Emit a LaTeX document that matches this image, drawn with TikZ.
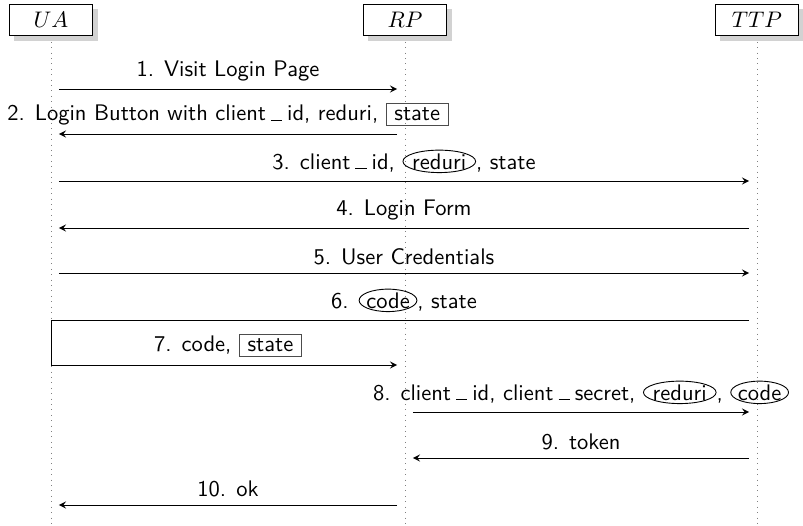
\documentclass[tikz,border=0pt]{standalone}
\usepackage{amsmath}
\usetikzlibrary{shapes.geometric,shadows}

\newcommand{\usc}{\kern.22em\vbox{\hrule width .5em height .45pt}\kern.22em}
\newcommand{\stbox}[1]{\tikz[baseline=(s.base),-,shorten >=0pt,shorten <=0pt]\node[draw=black!70,inner xsep=3.6pt,inner ysep=2pt] (s) {#1};}
\newcommand{\encl}[1]{\tikz[baseline=(e.base),-,shorten >=0pt,shorten <=0pt]\node[ellipse,draw,inner xsep=-0.6pt,inner ysep=0pt] (e) {#1};}

\begin{document}
\begin{tikzpicture}[x=0.444pt,y=-0.444pt]
                \useasboundingbox (0,0) rectangle (803,526);
                \begin{scope}[every node/.style={draw,fill=white,drop shadow={fill=black!35},minimum width=37pt,minimum height=14pt,inner sep=1}]
                        \node (UA) at (51,20) {\(UA\)};
                        \node (RP) at (405,20) {\(RP\)};
                        \node (TTP) at (757,20) {\(TTP\)};
                \end{scope}
                \foreach \n in {UA,RP,TTP}
                        \draw[dotted,gray] ([yshift=-2.5pt]\n.south) -- (\n |- 0,526);
                \foreach \r/\y in {1/89,2/134,3/181,4/228,5/273,6/320,7/365,8/412,9/458,10/505} {
                        \coordinate (ua\r) at (UA |- 0,\y);
                        \coordinate (rp\r) at (RP |- 0,\y);
                        \coordinate (ttp\r) at (TTP |- 0,\y);
                }
                \begin{scope}[msg/.style={draw,->,>=stealth,shorten >=3.5pt,shorten <=3.5pt}, every node/.style={font=\sffamily}]
                        \path (ua1) edge[msg] node[above] {1. Visit Login Page} (rp1);
                        \path (rp2) edge[msg] node[above] {2. Login Button with client\usc id, reduri, \stbox{state}} (ua2);
                        \path (ua3) edge[msg] node[above] {3. client\usc id, \encl{reduri}, state} (ttp3);
                        \path (ttp4) edge[msg] node[above] {4. Login Form} (ua4);
                        \path (ua5) edge[msg] node[above] {5. User Credentials} (ttp5);
                        \draw[msg] (ttp6) -- node[above] {6. \encl{code}, state} (ua6) -- (ua7)
                                -- node[above] {7. code, \stbox{state}} (rp7);
                        \path (rp8) edge[msg] node[above] {8. client\usc id, client\usc secret, \encl{reduri}, \encl{code}} (ttp8);
                        \path (ttp9) edge[msg] node[above] {9. token} (rp9);
                        \path (rp10) edge[msg] node[above] {10. ok} (ua10);
                \end{scope}
\end{tikzpicture}
\end{document}
